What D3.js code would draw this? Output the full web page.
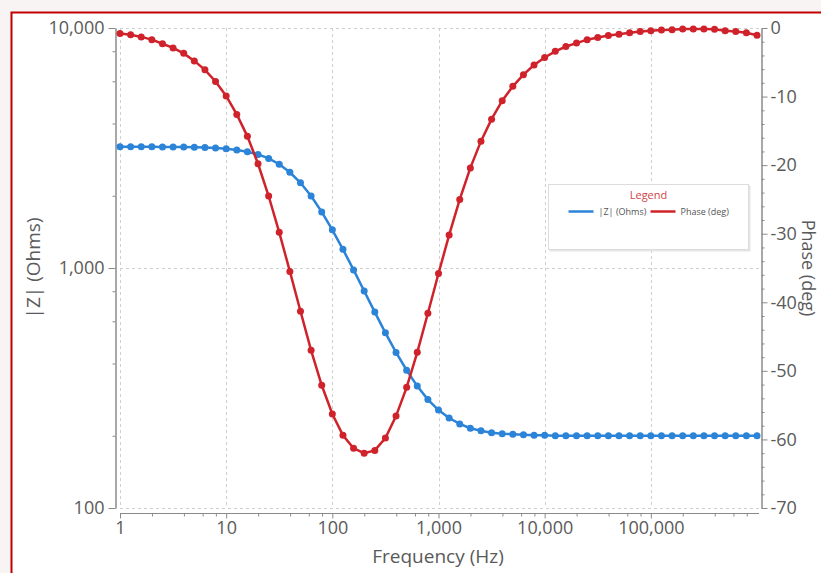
<!DOCTYPE html>
<html>
<head>
<meta charset="utf-8">
<script src="https://cdn.jsdelivr.net/npm/d3@7"></script>
<style>
  html, body { margin: 0; padding: 0; background: #f8f4f4; }
  #chart { width: 821px; height: 573px; }
  text { font-family: "Open Sans", "Noto Sans", sans-serif; }
</style>
</head>
<body>
<div id="chart"></div>
<script>
// Data (10 points per decade, 1 Hz .. 1 MHz)
const frequency = [
  1, 1.259, 1.585, 1.995, 2.512, 3.162, 3.981, 5.012, 6.310, 7.943,
  10, 12.59, 15.85, 19.95, 25.12, 31.62, 39.81, 50.12, 63.10, 79.43,
  100, 125.9, 158.5, 199.5, 251.2, 316.2, 398.1, 501.2, 631.0, 794.3,
  1000, 1259, 1585, 1995, 2512, 3162, 3981, 5012, 6310, 7943,
  10000, 12589, 15849, 19953, 25119, 31623, 39811, 50119, 63096, 79433,
  100000, 125893, 158489, 199526, 251189, 316228, 398107, 501187, 630957, 794328,
  1000000
]

const magnitude = [
  3199, 3199, 3198, 3197, 3196, 3194, 3190, 3184, 3175, 3161,
  3138, 3104, 3051, 2973, 2861, 2707, 2506, 2265, 1994, 1713,
  1442, 1196, 982, 802, 655, 537, 445, 375, 322, 283,
  256, 237, 224, 215, 210, 206, 204, 203, 202, 201,
  201, 200, 200, 200, 200, 200, 200, 200, 200, 200,
  200, 200, 200, 200, 200, 200, 200, 200, 200, 200,
  200
]

const phase = [
  -0.8, -1.0, -1.3, -1.7, -2.3, -2.9, -3.7, -4.8, -6.1, -7.8,
  -9.9, -12.6, -15.8, -19.8, -24.5, -29.8, -35.5, -41.3, -47.0, -52.1,
  -56.3, -59.4, -61.3, -62.0, -61.6, -59.8, -56.6, -52.4, -47.3, -41.6,
  -35.8, -30.2, -25.0, -20.4, -16.5, -13.3, -10.6, -8.5, -6.8, -5.4,
  -4.3, -3.4, -2.7, -2.2, -1.7, -1.4, -1.1, -0.9, -0.7, -0.5,
  -0.4, -0.3, -0.25, -0.15, -0.15, -0.15, -0.2, -0.4, -0.5, -0.7,
  -1.05
]

const freqTicks = [1, 10, 100, 1000, 10000, 100000]
const freqMinor = [2, 4, 6, 8, 20, 40, 60, 80, 200, 400, 600, 800, 2000, 4000, 6000, 8000,
  20000, 40000, 60000, 80000, 200000, 400000, 600000, 800000]
const magTicks = [100, 1000, 10000]
const magMinor = [200, 400, 600, 800, 2000, 4000, 6000, 8000]
const phaseTicks = [0, -10, -20, -30, -40, -50, -60, -70]
const phaseMinor = [-2, -4, -6, -8, -12, -14, -16, -18, -22, -24, -26, -28, -32, -34, -36, -38,
  -42, -44, -46, -48, -52, -54, -56, -58, -62, -64, -66, -68]

const seriesNames = ['|Z| (Ohms)', 'Phase (deg)']
const blue = '#2c84d8'
const red = '#d0222b'

// Dimensions
const dims = {
  width: 821,
  height: 573,
  left: 120,
  right: 757,
  top: 28,
  bottom: 508
}

const svg = d3.select('#chart')
  .append('svg')
  .attr('width', dims.width)
  .attr('height', dims.height)

// frame
svg.append('rect')
  .attr('x', 11.5)
  .attr('y', 12.5)
  .attr('width', 830)
  .attr('height', 600)
  .attr('fill', '#ffffff')
  .attr('stroke', '#c00000')
  .attr('stroke-width', 2)

// Scales
const xScale = d3.scaleLog()
  .domain([1, 1000000])
  .range([dims.left, dims.right])

const yScale = d3.scaleLog()
  .domain([100, 10000])
  .range([dims.bottom, dims.top])

const pScale = d3.scaleLinear()
  .domain([-70, 0])
  .range([dims.bottom, dims.top])

// Grid
const grid = svg.append('g')
  .attr('stroke', '#cfcfcf')
  .attr('stroke-dasharray', '3,3')
  .attr('stroke-width', 1)

grid.selectAll('.vg')
  .data(freqTicks)
  .join('line')
  .attr('x1', d => Math.round(xScale(d)) + 0.5)
  .attr('x2', d => Math.round(xScale(d)) + 0.5)
  .attr('y1', dims.top)
  .attr('y2', dims.bottom)

grid.selectAll('.hg')
  .data(magTicks)
  .join('line')
  .attr('x1', dims.left)
  .attr('x2', dims.right + 3)
  .attr('y1', d => Math.round(yScale(d)) + 0.5)
  .attr('y2', d => Math.round(yScale(d)) + 0.5)

// Axes
const axisColor = '#8a8a8a'
const labelColor = '#5a5a5a'

function styleAxis(g) {
  g.select('.domain').attr('stroke', axisColor)
  g.selectAll('.tick line').attr('stroke', axisColor)
  g.selectAll('.tick text')
    .attr('fill', labelColor)
    .style('font-size', '18px')
    .style('font-family', '"Open Sans", sans-serif')
}

// left
const leftG = svg.append('g').attr('transform', 'translate(115.5,0)')
leftG.append('g')
  .call(d3.axisLeft(yScale).tickValues(magMinor).tickSize(3).tickFormat('').tickSizeOuter(0))
  .call(styleAxis)
leftG.append('g')
  .call(d3.axisLeft(yScale).tickValues(magTicks).tickSize(7).tickPadding(4)
    .tickFormat(d3.format(',')).tickSizeOuter(0))
  .call(styleAxis)

// bottom
const bottomG = svg.append('g').attr('transform', 'translate(0,513.5)')
bottomG.append('g')
  .call(d3.axisBottom(xScale).tickValues(freqMinor).tickSize(3).tickFormat('').tickSizeOuter(0))
  .call(styleAxis)
bottomG.append('g')
  .call(d3.axisBottom(xScale).tickValues(freqTicks).tickSize(5).tickPadding(3)
    .tickFormat(d3.format(',')).tickSizeOuter(0))
  .call(styleAxis)
bottomG.selectAll('.domain').attr('d', `M${dims.left},0H${dims.right + 2}`)

// right
const rightG = svg.append('g').attr('transform', 'translate(761.5,0)')
rightG.append('g')
  .call(d3.axisRight(pScale).tickValues(phaseMinor).tickSize(3).tickFormat('').tickSizeOuter(0))
  .call(styleAxis)
rightG.append('g')
  .call(d3.axisRight(pScale).tickValues(phaseTicks).tickSize(6).tickPadding(3)
    .tickFormat(d => d).tickSizeOuter(0))
  .call(styleAxis)

// Axis titles
svg.append('text')
  .attr('x', 438)
  .attr('y', 563)
  .attr('text-anchor', 'middle')
  .attr('fill', labelColor)
  .style('font-size', '19px')
  .text('Frequency (Hz)')

svg.append('text')
  .attr('transform', 'translate(40,268) rotate(-90)')
  .attr('text-anchor', 'middle')
  .attr('fill', labelColor)
  .style('font-size', '19px')
  .text('|Z| (Ohms)')

svg.append('text')
  .attr('transform', 'translate(802,268) rotate(90)')
  .attr('text-anchor', 'middle')
  .attr('fill', labelColor)
  .style('font-size', '18px')
  .text('Phase (deg)')

// Lines and points
const idx = d3.range(frequency.length)

const magLine = d3.line()
  .x(i => xScale(frequency[i]))
  .y(i => yScale(magnitude[i]))

const phaseLine = d3.line()
  .x(i => xScale(frequency[i]))
  .y(i => pScale(phase[i]))

const plot = svg.append('g')

plot.append('path')
  .datum(idx)
  .attr('d', magLine)
  .attr('fill', 'none')
  .attr('stroke', blue)
  .attr('stroke-width', 2.5)

plot.selectAll('.mag-pt')
  .data(idx)
  .join('circle')
  .attr('cx', i => xScale(frequency[i]))
  .attr('cy', i => yScale(magnitude[i]))
  .attr('r', 3.5)
  .attr('fill', blue)

plot.append('path')
  .datum(idx)
  .attr('d', phaseLine)
  .attr('fill', 'none')
  .attr('stroke', red)
  .attr('stroke-width', 2.5)

plot.selectAll('.ph-pt')
  .data(idx)
  .join('circle')
  .attr('cx', i => xScale(frequency[i]))
  .attr('cy', i => pScale(phase[i]))
  .attr('r', 3.5)
  .attr('fill', red)

// Legend
const legend = svg.append('g').attr('transform', 'translate(548.5,184.5)')

legend.append('rect')
  .attr('x', 1)
  .attr('y', 1)
  .attr('width', 201)
  .attr('height', 66)
  .attr('fill', '#e6e6e6')

legend.append('rect')
  .attr('width', 200)
  .attr('height', 65)
  .attr('fill', '#ffffff')
  .attr('stroke', '#dcdcdc')

legend.append('text')
  .attr('x', 100)
  .attr('y', 14)
  .attr('text-anchor', 'middle')
  .attr('fill', '#d0444a')
  .style('font-size', '11px')
  .text('Legend')

const items = legend.selectAll('.item')
  .data(seriesNames)
  .join('g')
  .attr('transform', (d, i) => `translate(${i === 0 ? 20 : 102},27)`)

items.append('line')
  .attr('x1', 0)
  .attr('x2', 25)
  .attr('stroke', (d, i) => i === 0 ? blue : red)
  .attr('stroke-width', 2.5)

items.append('text')
  .attr('x', 30)
  .attr('y', 3)
  .attr('fill', '#555')
  .style('font-size', '9px')
  .text(d => d)
</script>
</body>
</html>
